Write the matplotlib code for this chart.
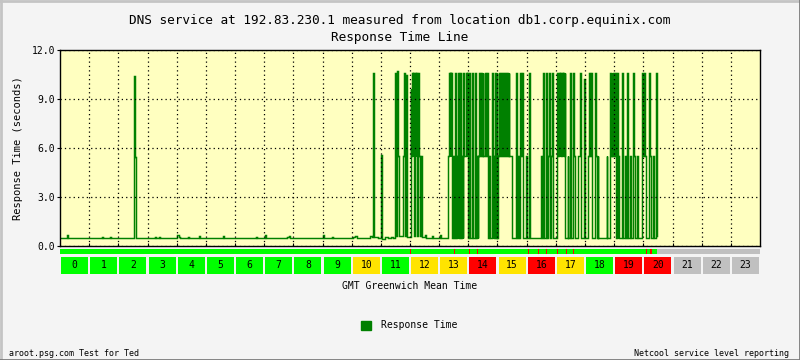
import matplotlib
matplotlib.use('Agg')
import matplotlib.pyplot as plt
from matplotlib.patches import Rectangle, Patch
from matplotlib.lines import Line2D

# response time samples: hour of day (GMT) and seconds, each value holds until the next sample
quiet_hours = [0.00, 0.24, 0.27, 1.43, 1.48, 1.71, 1.75, 1.89, 1.99, 2.55,
               2.58, 2.62, 3.26, 3.29, 3.40, 3.43, 4.00, 4.07, 4.10, 4.40,
               4.42, 4.76, 4.79, 5.58, 5.61, 6.71, 6.74, 7.02, 7.05, 7.77,
               7.86, 7.89, 9.01, 9.04, 9.32, 9.35, 10.05, 10.11, 10.18, 10.63,
               10.70]
quiet_secs = [0.50, 0.65, 0.47, 0.55, 0.48, 0.55, 0.47, 0.52, 0.47, 10.4,
              5.45, 0.47, 0.58, 0.47, 0.58, 0.47, 0.65, 0.55, 0.47, 0.53,
              0.47, 0.62, 0.47, 0.60, 0.47, 0.58, 0.47, 0.65, 0.47, 0.55,
              0.60, 0.47, 0.68, 0.47, 0.58, 0.47, 0.55, 0.62, 0.50, 0.60,
              0.58]

busy_hours = [10.74, 10.77, 10.90, 10.99, 11.03, 11.14, 11.25, 11.35, 11.42, 11.49,
              11.52, 11.54, 11.58, 11.61, 11.77, 11.79, 11.83, 11.85, 11.88, 12.02,
              12.04, 12.06, 12.09, 12.12, 12.14, 12.17, 12.19, 12.22, 12.24, 12.26,
              12.28, 12.31, 12.34, 12.38, 12.40, 12.51, 12.55, 12.75, 12.79, 13.03,
              13.06, 13.29, 13.34, 13.36, 13.37, 13.40, 13.41, 13.43, 13.46, 13.50,
              13.54, 13.57, 13.60, 13.63, 13.66, 13.69, 13.71, 13.74, 13.77, 13.80,
              13.83, 13.85, 13.91, 13.94, 13.96, 13.99, 14.02, 14.05, 14.07, 14.12,
              14.15, 14.23, 14.26, 14.29, 14.32, 14.34, 14.37, 14.40, 14.44, 14.47,
              14.50, 14.52, 14.57, 14.60, 14.63, 14.66, 14.69, 14.72, 14.75, 14.80,
              14.83, 14.86, 14.89, 14.91, 14.94, 14.97, 15.00, 15.03, 15.06, 15.09,
              15.12, 15.15, 15.18, 15.21, 15.26, 15.29, 15.32, 15.35, 15.38, 15.41,
              15.48, 15.63, 15.66, 15.70, 15.73, 15.76, 15.79, 15.83, 15.86, 15.98,
              16.01, 16.08, 16.11, 16.48, 16.51, 16.57, 16.60, 16.65, 16.68, 16.71,
              16.72, 16.76, 16.79, 16.83, 16.86, 16.89, 17.03, 17.05, 17.08, 17.10,
              17.13, 17.15, 17.18, 17.20, 17.23, 17.25, 17.28, 17.30, 17.32, 17.40,
              17.43, 17.49, 17.52, 17.60, 17.63, 17.66, 17.77, 17.83, 17.86, 17.98,
              18.01, 18.11, 18.14, 18.17, 18.20, 18.23, 18.34, 18.37, 18.40, 18.43,
              18.46, 18.74, 18.77, 18.86, 18.89, 18.91, 18.94, 18.96, 18.99, 19.02,
              19.05, 19.09, 19.12, 19.14, 19.17, 19.26, 19.29, 19.31, 19.37, 19.40,
              19.45, 19.48, 19.54, 19.57, 19.66, 19.69, 19.71, 19.77, 19.80, 19.94,
              19.97, 20.00, 20.03, 20.06, 20.09, 20.20, 20.23, 20.26, 20.34, 20.37,
              20.45, 20.47]
busy_secs = [10.6, 0.55, 0.50, 5.55, 0.45, 0.55, 0.50, 0.55, 0.50, 10.6,
             0.60, 10.7, 5.5, 0.60, 5.5, 10.6, 0.60, 10.5, 0.55, 9.6,
             5.5, 10.6, 5.5, 10.6, 0.6, 10.6, 5.5, 10.6, 0.6, 5.5,
             10.6, 5.5, 0.6, 5.5, 0.55, 0.65, 0.50, 0.60, 0.50, 0.65,
             0.48, 5.5, 10.6, 5.5, 10.6, 5.5, 10.6, 0.5, 5.5, 0.5,
             10.6, 0.5, 5.5, 0.5, 10.6, 0.5, 10.6, 0.5, 5.5, 0.5,
             10.6, 5.5, 10.6, 5.5, 10.6, 0.5, 10.6, 5.5, 0.5, 10.6,
             0.5, 10.6, 0.5, 5.5, 0.5, 5.5, 10.6, 5.5, 10.6, 5.5,
             10.6, 5.5, 10.6, 5.5, 10.6, 5.5, 0.5, 5.5, 0.5, 10.6,
             0.5, 5.5, 0.5, 10.6, 0.5, 10.6, 0.5, 5.5, 10.6, 5.5,
             10.6, 5.5, 10.6, 5.5, 10.6, 5.5, 10.6, 5.5, 10.6, 5.5,
             0.5, 10.6, 0.5, 5.5, 0.5, 10.6, 5.5, 10.6, 0.5, 5.5,
             0.5, 10.6, 0.5, 5.5, 0.5, 10.6, 0.5, 10.6, 5.5, 0.5,
             5.5, 10.6, 0.5, 5.5, 10.6, 0.5, 5.5, 10.6, 5.5, 10.6,
             5.5, 10.6, 5.5, 10.6, 5.5, 10.6, 5.5, 10.6, 0.5, 5.5,
             0.5, 10.6, 0.5, 10.6, 5.5, 0.5, 5.5, 10.6, 0.5, 10.2,
             0.5, 5.5, 10.6, 5.5, 10.6, 0.5, 10.6, 5.5, 0.5, 5.5,
             0.5, 5.5, 0.5, 10.6, 5.5, 10.6, 5.5, 10.6, 5.5, 10.6,
             0.5, 10.6, 0.5, 5.5, 0.5, 10.6, 5.5, 0.5, 5.5, 0.5,
             10.6, 0.5, 5.5, 0.5, 10.6, 5.5, 0.5, 5.5, 0.5, 5.5,
             10.6, 5.5, 10.6, 5.5, 0.5, 10.6, 5.5, 0.5, 5.5, 0.5,
             10.6, 0.6]

# per-hour service level and the availability strip
hours = list(range(24))
hour_status = ['ok'] * 10 + ['warn', 'ok', 'warn', 'warn', 'bad', 'warn', 'bad',
                             'warn', 'ok', 'bad', 'bad'] + ['none'] * 3
status_colors = {'ok': '#00ff00', 'warn': '#ffe400', 'bad': '#ff0000', 'none': '#c0c0c0'}
data_end = 20.47
alarm_hours = [12.01, 13.53, 14.03, 14.31, 16.07, 16.40, 16.67, 17.05, 17.37, 17.60, 20.11, 20.26]

line_green = '#008000'
mono = 'DejaVu Sans Mono'

fig = plt.figure(figsize=(8, 3.6), dpi=100, facecolor='#f4f4f4')
W, H = 800.0, 360.0

# main plot: pixels x 60..760, y 50..246
ax = fig.add_axes([60 / W, 1 - 246 / H, 700 / W, 196 / H])
ax.set_facecolor('#ffffc0')
t = quiet_hours + busy_hours
v = quiet_secs + busy_secs
ax.plot(t, v, drawstyle='steps-post', color=line_green, lw=1.05, solid_joinstyle='miter')
ax.set_xlim(0, 24)
ax.set_ylim(0, 12)
ax.set_yticks([0, 3, 6, 9, 12])
ax.set_yticklabels(['%.1f' % y for y in [0, 3, 6, 9, 12]], family=mono, fontsize=7)
ax.set_xticks(range(1, 24))
ax.set_xticklabels([])
ax.tick_params(axis='y', direction='out', length=2.5, width=0.8, pad=1)
ax.tick_params(axis='x', direction='in', length=2.5, width=0.8)
for s in ax.spines.values():
    s.set_linewidth(1.0)
    s.set_color('black')
ax.grid(True, color='black', linestyle=(0, (1, 2.5)), linewidth=0.9)
ax.set_axisbelow(False)
ax.set_ylabel('Response Time (seconds)', family=mono, fontsize=7.5, labelpad=6)

# availability strip + hour boxes share the hour axis
bx = fig.add_axes([60 / W, 1 - 275 / H, 700 / W, 28 / H])
bx.set_xlim(0, 24)
bx.set_ylim(0, 28)
bx.axis('off')
bx.add_patch(Rectangle((0, 21), data_end, 5, color='#00ff00', lw=0))
bx.add_patch(Rectangle((data_end, 21), 24 - data_end, 5, color='#c0c0c0', lw=0))
for a in alarm_hours:
    bx.add_patch(Rectangle((a - 0.015, 21), 0.035, 5, color='#ff0000', lw=0))
for h, st in zip(hours, hour_status):
    bx.add_patch(Rectangle((h + 0.035, 1), 0.93, 17, color=status_colors[st], lw=0))
    bx.text(h + 0.5, 9.5, str(h), ha='center', va='center', family=mono, fontsize=7)

fig.text(0.5, 1 - 20.5 / H, 'DNS service at 192.83.230.1 measured from location db1.corp.equinix.com',
         ha='center', va='center', family=mono, fontsize=9.2)
fig.text(0.5, 1 - 37.5 / H, 'Response Time Line', ha='center', va='center', family=mono, fontsize=9.2)
fig.text(410 / W, 1 - 286 / H, 'GMT Greenwich Mean Time', ha='center', va='center', family=mono, fontsize=7)

fig.legend(handles=[Patch(color=line_green, label='Response Time')], loc='center',
           bbox_to_anchor=(409 / W, 1 - 325.5 / H), frameon=False, prop={'family': mono, 'size': 7},
           handlelength=1.05, handleheight=1.05, handletextpad=0.95)

fig.text(9 / W, 1 - 354 / H, 'aroot.psg.com Test for Ted', ha='left', va='center', family=mono, fontsize=6)
fig.text(789 / W, 1 - 354 / H, 'Netcool service level reporting', ha='right', va='center', family=mono, fontsize=6)

# bevelled frame
fig.add_artist(Line2D([0.5 / W, 0.5 / W], [0, 1], color='#c4c4c4', lw=2, transform=fig.transFigure))
fig.add_artist(Line2D([0, 1], [1 - 0.5 / H, 1 - 0.5 / H], color='#c4c4c4', lw=2, transform=fig.transFigure))
fig.add_artist(Line2D([1 - 0.5 / W, 1 - 0.5 / W], [0, 1], color='#7a7a7a', lw=2, transform=fig.transFigure))
fig.add_artist(Line2D([0, 1], [0.5 / H, 0.5 / H], color='#7a7a7a', lw=2, transform=fig.transFigure))

fig.savefig('out.png', dpi=100, facecolor=fig.get_facecolor())
